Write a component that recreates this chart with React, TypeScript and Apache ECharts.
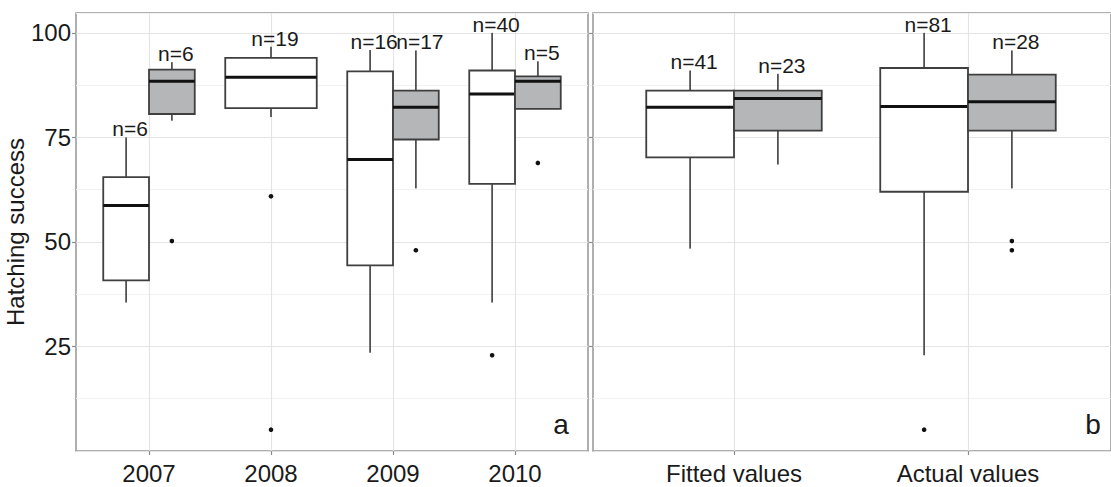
import React, { useEffect, useRef } from 'react';
import * as echarts from 'echarts';

const yearCategories = ['2007', '2008', '2009', '2010'];
const typeCategories = ['Fitted values', 'Actual values'];
// box stats: [min, q1, median, q3, max]
const yearWhite: (number[] | null)[] = [
  [35.5, 40.8, 58.7, 65.5, 75],
  [79.9, 82, 89.4, 94, 96.7],
  [23.5, 44.4, 69.7, 90.8, 95.9],
  [35.5, 63.9, 85.4, 91, 100],
];
const yearGray: (number[] | null)[] = [
  [79, 80.6, 88.4, 91.2, 93],
  null,
  [62.8, 74.5, 82.2, 86.2, 95.8],
  [81.8, 81.8, 88.4, 89.6, 93.2],
];
const yearWhiteN = [6, 19, 16, 40];
const yearGrayN = [6, null, 17, 5];
const yearWhiteOutliers = [[], [60.9, 5.1], [], [22.9]];
const yearGrayOutliers = [[50.2], [], [48], [68.9]];

const typeWhite: (number[] | null)[] = [
  [48.4, 70.2, 82.2, 86.2, 91],
  [22.9, 62, 82.4, 91.6, 100],
];
const typeGray: (number[] | null)[] = [
  [68.5, 76.6, 84.3, 86.2, 90.2],
  [62.8, 76.6, 83.5, 90, 95.8],
];
const typeWhiteN = [41, 81];
const typeGrayN = [23, 28];
const typeWhiteOutliers = [[], [5.1]];
const typeGrayOutliers = [[], [50.2, 48]];

const yTickValues = [25, 50, 75, 100];
const yMin = 0;
const yMax = 104.75;

const FONT = 'Liberation Sans, Arial, sans-serif';
const TEXT = '#1a1a1a';
const BOX_STROKE = '#3f3f3f';
const WHISKER = '#505050';
const MEDIAN = '#111111';
const GRAY_FILL = '#b4b6b8';

function boxBounds(api: any, ci: number, group: string, single: boolean) {
  const x0 = api.coord([0, 0])[0];
  const x1 = api.coord([1, 0])[0];
  const band = Math.abs(x1 - x0);
  const dodge = band * 0.75;
  const cx = api.coord([ci, 0])[0];
  let left: number, right: number;
  if (single) {
    left = cx - dodge / 2;
    right = cx + dodge / 2;
  } else if (group === 'white') {
    left = cx - dodge / 2;
    right = cx;
  } else {
    left = cx;
    right = cx + dodge / 2;
  }
  return { left, right, mid: (left + right) / 2 };
}

function makeBoxRenderer(group: string, singles: boolean[]) {
  return (params: any, api: any) => {
    const ci = api.value(0);
    const vals = [1, 2, 3, 4, 5].map((d) => api.value(d));
    const n = api.value(6);
    const { left, right, mid } = boxBounds(api, ci, group, singles[ci]);
    const y = vals.map((v) => api.coord([ci, v])[1]);
    const fill = group === 'white' ? '#ffffff' : GRAY_FILL;
    return {
      type: 'group',
      children: [
        {
          type: 'line',
          shape: { x1: mid, y1: y[3], x2: mid, y2: y[4] },
          style: { stroke: WHISKER, lineWidth: 1.8 },
        },
        {
          type: 'line',
          shape: { x1: mid, y1: y[1], x2: mid, y2: y[0] },
          style: { stroke: WHISKER, lineWidth: 1.8 },
        },
        {
          type: 'rect',
          shape: { x: left, y: y[3], width: right - left, height: y[1] - y[3] },
          style: { fill, stroke: BOX_STROKE, lineWidth: 1.8 },
        },
        {
          type: 'line',
          shape: { x1: left, y1: y[2], x2: right, y2: y[2] },
          style: { stroke: MEDIAN, lineWidth: 3 },
        },
        {
          type: 'text',
          x: mid + 4,
          y: y[4] + 2,
          style: {
            text: 'n=' + n,
            fill: TEXT,
            fontSize: 21,
            fontFamily: FONT,
            align: 'center',
            verticalAlign: 'bottom',
          },
        },
      ],
    };
  };
}

function makeOutlierRenderer(group: string, singles: boolean[]) {
  return (params: any, api: any) => {
    const ci = api.value(0);
    const v = api.value(1);
    const { mid } = boxBounds(api, ci, group, singles[ci]);
    const yy = api.coord([ci, v])[1];
    return {
      type: 'circle',
      shape: { cx: mid, cy: yy, r: 2.3 },
      style: { fill: '#111111' },
    };
  };
}

function panelSeries(
  xAxisIndex: number,
  yAxisIndex: number,
  white: (number[] | null)[],
  gray: (number[] | null)[],
  whiteN: (number | null)[],
  grayN: (number | null)[],
  whiteOut: number[][],
  grayOut: number[][]
) {
  const singles = white.map((w, i) => !(w && gray[i]));
  const boxData = (stats: (number[] | null)[], ns: (number | null)[]) =>
    stats
      .map((s, i) => (s ? [i, ...s, ns[i]] : null))
      .filter((d) => d !== null);
  const outData = (outs: number[][]) =>
    outs.flatMap((arr, i) => arr.map((v) => [i, v]));
  const common = { type: 'custom', xAxisIndex, yAxisIndex, clip: false, silent: true };
  return [
    {
      ...common,
      name: 'white',
      renderItem: makeBoxRenderer('white', singles),
      encode: { x: 0, y: [1, 2, 3, 4, 5] },
      data: boxData(white, whiteN),
      z: 3,
    },
    {
      ...common,
      name: 'gray',
      renderItem: makeBoxRenderer('gray', singles),
      encode: { x: 0, y: [1, 2, 3, 4, 5] },
      data: boxData(gray, grayN),
      z: 3,
    },
    {
      ...common,
      name: 'white outliers',
      renderItem: makeOutlierRenderer('white', singles),
      encode: { x: 0, y: 1 },
      data: outData(whiteOut),
      z: 4,
    },
    {
      ...common,
      name: 'gray outliers',
      renderItem: makeOutlierRenderer('gray', singles),
      encode: { x: 0, y: 1 },
      data: outData(grayOut),
      z: 4,
    },
  ];
}

const TOP = 13;
const HEIGHT = 438;

export default function App() {
  const ref = useRef<HTMLDivElement>(null);
  useEffect(() => {
    if (!ref.current) return;
    const chart = echarts.init(ref.current, undefined, { renderer: 'svg' });

    const splitY = (gridIndex: number) => ({
      type: 'value',
      gridIndex,
      min: yMin,
      max: yMax,
      interval: 12.5,
      axisLine: { show: false },
      axisTick: { show: false },
      axisLabel: { show: false },
      splitLine: { show: true, lineStyle: { color: ['#e4e4e4', '#f2f2f2'], width: 1.2 } },
    });
    const tickY = (gridIndex: number, labels: boolean) => ({
      type: 'value',
      gridIndex,
      position: 'left',
      min: yMin,
      max: yMax,
      interval: 25,
      axisLine: { show: false },
      axisTick: {
        show: true,
        length: 4,
        customValues: yTickValues,
        lineStyle: { color: '#8c8c8c', width: 1.2 },
      },
      axisLabel: {
        show: labels,
        customValues: yTickValues,
        margin: 5,
        fontSize: 24,
        fontFamily: FONT,
        color: TEXT,
        formatter: (v: number) => (yTickValues.indexOf(v) >= 0 ? String(v) : ''),
      },
      splitLine: { show: false },
      ...(labels
        ? {
            name: 'Hatching success',
            nameLocation: 'middle',
            nameRotate: 90,
            nameGap: 40,
            nameTextStyle: { fontSize: 24, fontFamily: FONT, color: TEXT },
          }
        : {}),
    });
    const hiddenY = (gridIndex: number) => ({
      type: 'value',
      gridIndex,
      min: yMin,
      max: yMax,
      show: false,
    });
    const catX = (gridIndex: number, data: string[]) => ({
      type: 'category',
      gridIndex,
      data,
      boundaryGap: false,
      axisLine: { show: false },
      axisTick: { show: true, length: 4, lineStyle: { color: '#8c8c8c', width: 1.2 } },
      axisLabel: { interval: 0, margin: 10, fontSize: 24, fontFamily: FONT, color: TEXT },
      splitLine: { show: true, lineStyle: { color: '#e4e4e4', width: 1.2 } },
    });

    chart.setOption({
      animation: false,
      backgroundColor: '#ffffff',
      grid: [
        { left: 76, top: TOP, width: 512, height: HEIGHT, show: true, borderColor: '#969696', borderWidth: 1.5 },
        { left: 149, top: TOP, width: 366, height: HEIGHT },
        { left: 593, top: TOP, width: 521, height: HEIGHT, show: true, borderColor: '#969696', borderWidth: 1.5 },
        { left: 734, top: TOP, width: 234, height: HEIGHT },
      ],
      xAxis: [
        { type: 'value', gridIndex: 0, min: 0, max: 1, show: false },
        catX(1, yearCategories),
        { type: 'value', gridIndex: 2, min: 0, max: 1, show: false },
        catX(3, typeCategories),
      ],
      yAxis: [
        splitY(0),
        tickY(0, true),
        hiddenY(1),
        splitY(2),
        tickY(2, false),
        hiddenY(3),
      ],
      series: [
        ...panelSeries(1, 2, yearWhite, yearGray, yearWhiteN, yearGrayN, yearWhiteOutliers, yearGrayOutliers),
        ...panelSeries(3, 5, typeWhite, typeGray, typeWhiteN, typeGrayN, typeWhiteOutliers, typeGrayOutliers),
      ],
      graphic: [
        {
          type: 'text',
          x: 561,
          y: 424,
          style: { text: 'a', fontSize: 28, fontFamily: FONT, fill: TEXT, align: 'center', verticalAlign: 'middle' },
        },
        {
          type: 'text',
          x: 1093,
          y: 424,
          style: { text: 'b', fontSize: 28, fontFamily: FONT, fill: TEXT, align: 'center', verticalAlign: 'middle' },
        },
      ],
    });
    return () => chart.dispose();
  }, []);
  return (
    <div
      ref={ref}
      style={{ position: 'absolute', left: 0, top: 0, width: 1111, height: 487, background: '#fff' }}
    />
  );
}
